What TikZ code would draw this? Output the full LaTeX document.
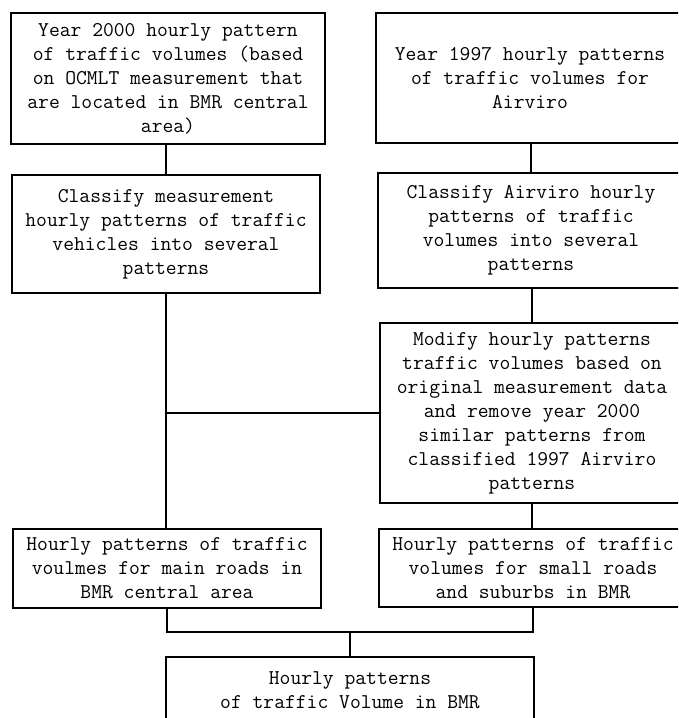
\documentclass[tikz,border=0pt]{standalone}
\usepackage{fontspec}
\begin{document}
\begin{tikzpicture}[x=1pt,y=-1pt,
  box/.style={draw=black, line width=1.5pt, rectangle, inner sep=0pt, align=center,
    font=\fontsize{21}{24}\selectfont\ttfamily},
  conn/.style={draw=black, line width=1.4pt}]
\clip (0,0) rectangle (678,718);
\fill[white] (0,0) rectangle (678,718);
\node[box, minimum width=314pt, minimum height=131pt] (a) at (168,78.5)
  {Year 2000 hourly pattern\\of traffic volumes (based\\on OCMLT measurement that\\are located in BMR central\\area)};
\node[box, minimum width=308pt, minimum height=130pt] (b) at (530,78)
  {Year 1997 hourly patterns\\of traffic volumes for\\Airviro};
\node[box, minimum width=308pt, minimum height=118pt] (c) at (166,234)
  {Classify measurement\\hourly patterns of traffic\\vehicles into several\\patterns};
\node[box, minimum width=306pt, minimum height=115pt] (d) at (531,230.5)
  {Classify Airviro hourly\\patterns of traffic\\volumes into several\\patterns};
\node[box, minimum width=304pt, minimum height=180pt] (e) at (532,413)
  {Modify hourly patterns\\traffic volumes based on\\original measurement data\\and remove year 2000\\similar patterns from\\classified 1997 Airviro\\patterns};
\node[box, minimum width=308pt, minimum height=79pt] (f) at (167,568.5)
  {Hourly patterns of traffic\\voulmes for main roads in\\BMR central area};
\node[box, minimum width=308pt, minimum height=78pt] (h) at (533,568)
  {Hourly patterns of traffic\\volumes for small roads\\and suburbs in BMR};
\node[box, minimum width=368pt, minimum height=66pt] (g) at (350,690)
  {Hourly patterns\\of traffic Volume in BMR};
\coordinate (m) at (350,632);
\coordinate (j) at (c.south |- e.west);
\draw[conn] (c.north |- a.south) -- (c.north);
\draw[conn] (d.north |- b.south) -- (d.north);
\draw[conn] (e.north |- d.south) -- (e.north);
\draw[conn] (c.south) -- (c.south |- f.north);
\draw[conn, line width=1.1pt] (j) -- (e.west);
\draw[conn] (e.south) -- (e.south |- h.north);
\draw[conn] (f.south) -- (f.south |- m) -- (h.south |- m) -- (h.south);
\draw[conn] (g.north |- m) -- (g.north);
\end{tikzpicture}
\end{document}
